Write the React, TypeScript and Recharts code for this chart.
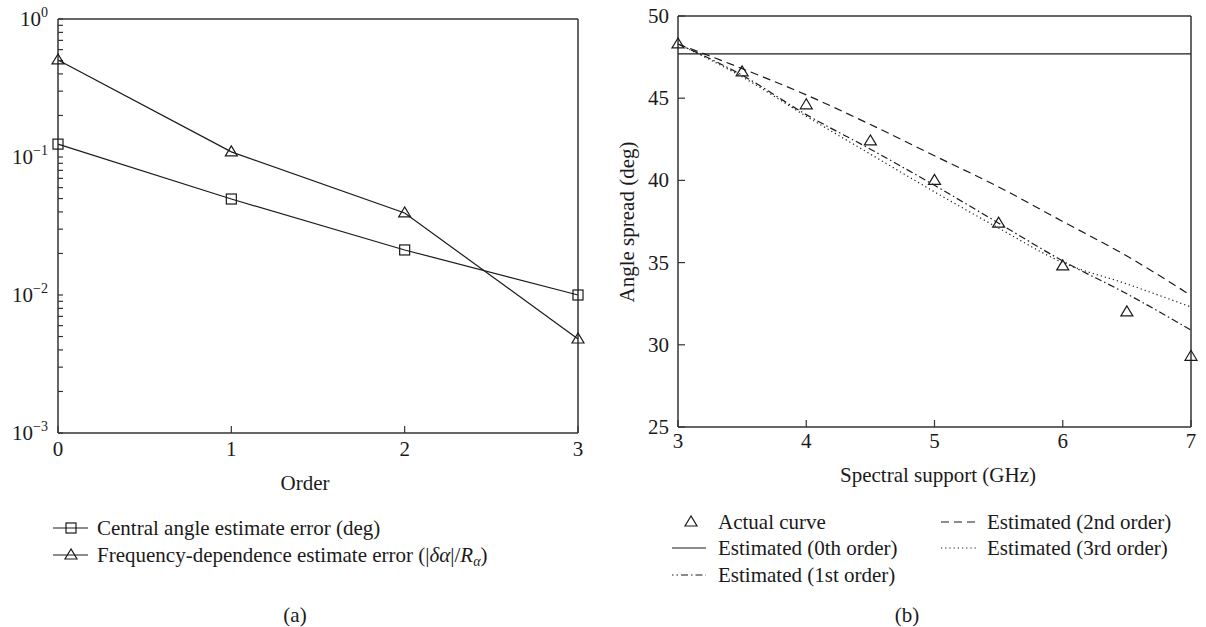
import React from "react";
import { LineChart, Line, XAxis, YAxis } from "recharts";

// (a) error vs order, log scale
const orders = [0, 1, 2, 3];
const centralErr = [0.124, 0.0496, 0.0212, 0.01];
const freqErr = [0.505, 0.109, 0.0393, 0.0048];
const logMajor = [0.001, 0.01, 0.1, 1];
const logAll = [0.001, 0.01, 0.1]
  .flatMap((d) => [1, 2, 3, 4, 5, 6, 7, 8, 9].map((m) => +(d * m).toPrecision(2)))
  .concat([1]);

// (b) angle spread vs spectral support
const support = [3, 3.5, 4, 4.5, 5, 5.5, 6, 6.5, 7];
const actual = [48.3, 46.6, 44.6, 42.4, 40.0, 37.4, 34.8, 32.0, 29.3];
const est0 = [47.7, 47.7, 47.7, 47.7, 47.7, 47.7, 47.7, 47.7, 47.7];
const est1 = [48.3, 46.4, 44.0, 41.9, 39.7, 37.4, 35.1, 33.1, 30.9];
const est2 = [48.3, 46.8, 45.2, 43.4, 41.5, 39.6, 37.5, 35.4, 33.0];
const est3 = [48.3, 46.3, 43.9, 41.6, 39.3, 37.1, 35.0, 33.7, 32.3];
const supportTicks = [3, 4, 5, 6, 7];
const spreadTicks = [25, 30, 35, 40, 45, 50];

const dataA = orders.map((o, i) => ({ order: o, central: centralErr[i], freq: freqErr[i] }));
const dataB = support.map((s, i) => ({
  f: s,
  actual: actual[i],
  e0: est0[i],
  e1: est1[i],
  e2: est2[i],
  e3: est3[i],
}));

const FONT = "'Liberation Serif', 'DejaVu Serif', serif";
const INK = "#1a1a1a";
const AXIS = "#333";
const FS = 21;

const DASH2 = "8 5";
const DASH1 = "7 3 1.5 3";
const DOT3 = "1.2 3";

const tri = (cx: number, cy: number) => `${cx},${cy - 6} ${cx - 6},${cy + 4} ${cx + 6},${cy + 4}`;

const TriDot = (p: any) => {
  if (p.cx == null || p.cy == null) return <g key={p.key} />;
  return <polygon key={p.key} points={tri(p.cx, p.cy)} fill="none" stroke={INK} strokeWidth={1.2} />;
};

const SquareDot = (p: any) => {
  if (p.cx == null || p.cy == null) return <g key={p.key} />;
  return <rect key={p.key} x={p.cx - 5} y={p.cy - 5} width={10} height={10} fill="none" stroke={INK} strokeWidth={1.2} />;
};

const LogTick = ({ x, y, payload }: any) => {
  if (!logMajor.includes(payload.value)) return <g />;
  const exp = Math.round(Math.log10(payload.value));
  return (
    <text x={x} y={y + 7} textAnchor="end" fontFamily={FONT} fontSize={FS} fill={INK}>
      10
      <tspan dy={-9} fontSize={14}>
        {exp === 0 ? "0" : "\u2212" + -exp}
      </tspan>
    </text>
  );
};

const NumTickY = ({ x, y, payload }: any) => (
  <text x={x} y={y + 7} textAnchor="end" fontFamily={FONT} fontSize={FS} fill={INK}>
    {payload.value}
  </text>
);

const NumTickX = ({ x, y, payload }: any) => (
  <text x={x} y={y + 23} textAnchor="middle" fontFamily={FONT} fontSize={FS} fill={INK}>
    {payload.value}
  </text>
);

const axisLine = { stroke: AXIS, strokeWidth: 1.5 };
const tickLine = { stroke: AXIS, strokeWidth: 1.2 };

// invisible series so the top/right frame axes get a scale
const frameLine = (key: string, xId: string, yId: string, dataKey: string) => (
  <Line
    key={key}
    xAxisId={xId}
    yAxisId={yId}
    dataKey={dataKey}
    stroke="none"
    dot={false}
    activeDot={false}
    legendType="none"
    isAnimationActive={false}
  />
);

function ChartA() {
  return (
    <LineChart width={600} height={480} data={dataA} margin={{ top: 18, right: 21, left: 0, bottom: 17 }}>
      <XAxis
        xAxisId="main"
        dataKey="order"
        type="number"
        domain={[0, 3]}
        ticks={orders}
        interval={0}
        height={30}
        axisLine={axisLine}
        tickLine={tickLine}
        tickSize={-7}
        tickMargin={7}
        tick={<NumTickX />}
      />
      <XAxis xAxisId="top" dataKey="order" orientation="top" type="number" domain={[0, 3]} ticks={orders} interval={0} height={1} axisLine={axisLine} tickLine={tickLine} tickSize={-7} tick={false} />
      <YAxis
        yAxisId="main"
        type="number"
        scale="log"
        domain={[0.001, 1]}
        allowDataOverflow
        ticks={logAll}
        interval={0}
        width={58}
        axisLine={axisLine}
        tickLine={tickLine}
        tickSize={-5}
        tickMargin={15}
        tick={<LogTick />}
      />
      <YAxis yAxisId="right" orientation="right" type="number" scale="log" domain={[0.001, 1]} allowDataOverflow ticks={logAll} interval={0} width={1} axisLine={axisLine} tickLine={tickLine} tickSize={-5} tick={false} />
      {frameLine("f1", "top", "right", "central")}
      <Line xAxisId="main" yAxisId="main" dataKey="central" stroke={INK} strokeWidth={1.2} dot={SquareDot} activeDot={false} isAnimationActive={false} />
      <Line xAxisId="main" yAxisId="main" dataKey="freq" stroke={INK} strokeWidth={1.2} dot={TriDot} activeDot={false} isAnimationActive={false} />
    </LineChart>
  );
}

function ChartB() {
  return (
    <LineChart width={606} height={480} data={dataB} margin={{ top: 15, right: 14, left: 0, bottom: 23 }}>
      <XAxis
        xAxisId="main"
        dataKey="f"
        type="number"
        domain={[3, 7]}
        ticks={supportTicks}
        interval={0}
        height={30}
        axisLine={axisLine}
        tickLine={tickLine}
        tickSize={-7}
        tickMargin={5}
        tick={<NumTickX />}
      />
      <XAxis xAxisId="top" dataKey="f" orientation="top" type="number" domain={[3, 7]} ticks={supportTicks} interval={0} height={1} axisLine={axisLine} tickLine={tickLine} tickSize={-7} tick={false} />
      <YAxis
        yAxisId="main"
        type="number"
        domain={[25, 50]}
        allowDataOverflow
        ticks={spreadTicks}
        interval={0}
        width={78}
        axisLine={axisLine}
        tickLine={tickLine}
        tickSize={-7}
        tickMargin={16}
        tick={<NumTickY />}
      />
      <YAxis yAxisId="rm" orientation="right" type="number" domain={[25, 50]} allowDataOverflow ticks={spreadTicks} interval={0} width={1} axisLine={axisLine} tickLine={tickLine} tickSize={-7} tick={false} />
      {frameLine("g1", "top", "rm", "actual")}
      <Line xAxisId="main" yAxisId="main" dataKey="e0" stroke={INK} strokeWidth={1.2} dot={false} activeDot={false} isAnimationActive={false} />
      <Line xAxisId="main" yAxisId="main" dataKey="e2" type="monotone" stroke={INK} strokeWidth={1.2} strokeDasharray={DASH2} dot={false} activeDot={false} isAnimationActive={false} />
      <Line xAxisId="main" yAxisId="main" dataKey="e1" type="monotone" stroke={INK} strokeWidth={1.2} strokeDasharray={DASH1} dot={false} activeDot={false} isAnimationActive={false} />
      <Line xAxisId="main" yAxisId="main" dataKey="e3" type="monotone" stroke={INK} strokeWidth={1.2} strokeDasharray={DOT3} dot={false} activeDot={false} isAnimationActive={false} />
      <Line xAxisId="main" yAxisId="main" dataKey="actual" stroke="none" dot={TriDot} activeDot={false} isAnimationActive={false} />
    </LineChart>
  );
}

const txt = { fontFamily: FONT, fontSize: FS, fill: INK } as const;

function Annotations() {
  return (
    <svg width={1206} height={627} style={{ position: "absolute", left: 0, top: 0, pointerEvents: "none" }}>
      <text {...txt} x={305} y={490} textAnchor="middle">Order</text>
      <text {...txt} x={938} y={482} textAnchor="middle">Spectral support (GHz)</text>
      <text {...txt} x={0} y={0} textAnchor="middle" transform="translate(634 222) rotate(-90)">Angle spread (deg)</text>
      <text {...txt} x={295} y={622} textAnchor="middle">(a)</text>
      <text {...txt} x={907} y={622} textAnchor="middle">(b)</text>

      {/* legend (a) */}
      <line x1={53} x2={88} y1={528} y2={528} stroke={INK} strokeWidth={1.2} />
      <rect x={66} y={523} width={10} height={10} fill="none" stroke={INK} strokeWidth={1.2} />
      <text {...txt} x={97} y={535}>Central angle estimate error (deg)</text>
      <line x1={53} x2={88} y1={555} y2={555} stroke={INK} strokeWidth={1.2} />
      <polygon points={tri(71, 555)} fill="none" stroke={INK} strokeWidth={1.2} />
      <text {...txt} x={97} y={562}>
        Frequency-dependence estimate error (|<tspan fontStyle="italic">δα</tspan>|/<tspan fontStyle="italic">R</tspan>
        <tspan fontStyle="italic" fontSize={14} dy={4}>α</tspan>
        <tspan dy={-4}>)</tspan>
      </text>

      {/* legend (b) */}
      <polygon points={tri(691, 522)} fill="none" stroke={INK} strokeWidth={1.2} />
      <text {...txt} x={718} y={529}>Actual curve</text>
      <line x1={672} x2={706} y1={548} y2={548} stroke={INK} strokeWidth={1.2} />
      <text {...txt} x={718} y={555}>Estimated (0th order)</text>
      <line x1={672} x2={706} y1={575} y2={575} stroke={INK} strokeWidth={1.2} strokeDasharray={DASH1} strokeDashoffset={-9} />
      <text {...txt} x={718} y={582}>Estimated (1st order)</text>
      <line x1={941} x2={976} y1={522} y2={522} stroke={INK} strokeWidth={1.2} strokeDasharray={DASH2} />
      <text {...txt} x={987} y={529}>Estimated (2nd order)</text>
      <line x1={941} x2={976} y1={548} y2={548} stroke={INK} strokeWidth={1.2} strokeDasharray={DOT3} />
      <text {...txt} x={987} y={555}>Estimated (3rd order)</text>
    </svg>
  );
}

export default function App() {
  return (
    <div style={{ position: "absolute", left: 0, top: 0, width: 1206, height: 627, background: "#fff" }}>
      <div style={{ position: "absolute", left: 0, top: 0 }}>
        <ChartA />
      </div>
      <div style={{ position: "absolute", left: 600, top: 0 }}>
        <ChartB />
      </div>
      <Annotations />
    </div>
  );
}
